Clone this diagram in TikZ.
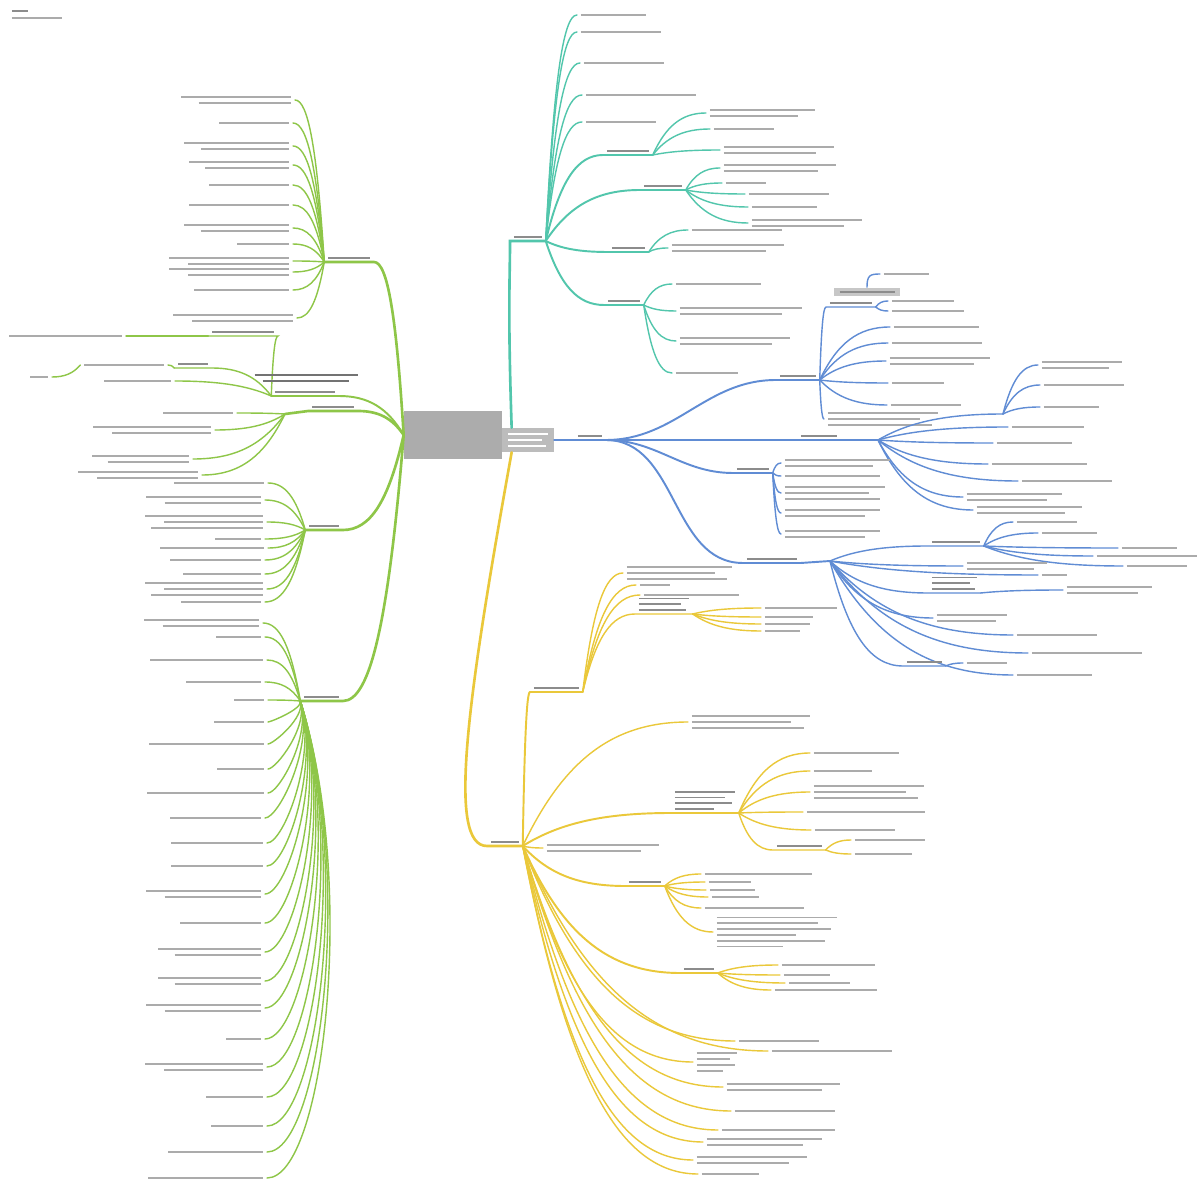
\documentclass[tikz,border=0pt]{standalone}
\usepackage{tikz}
\usetikzlibrary{calc}
\definecolor{mmteal}{RGB}{82,198,172}
\definecolor{mmblue}{RGB}{96,140,212}
\definecolor{mmyellow}{RGB}{234,200,58}
\definecolor{mmgreen}{RGB}{142,198,72}
\definecolor{rootgray}{RGB}{172,172,172}
\definecolor{notegray}{RGB}{188,188,188}
\newdimen\pxu \pxu=0.02cm
% unreadable label lines
\newcommand\bars[2]{\rule{#2\pxu}{1pt}%
\ifnum#1>1 \\\rule{.84\dimexpr#2\pxu\relax}{1pt}\fi
\ifnum#1>2 \\\rule{.95\dimexpr#2\pxu\relax}{1pt}\fi
\ifnum#1>3 \\\rule{.66\dimexpr#2\pxu\relax}{1pt}\fi
\ifnum#1>4 \\\rule{.9\dimexpr#2\pxu\relax}{1pt}\fi
\ifnum#1>5 \\\rule{.55\dimexpr#2\pxu\relax}{1pt}\fi}
\tikzstyle{rootbox} = [rectangle, fill=rootgray, minimum width=1.96cm, minimum height=0.96cm, inner sep=0pt]
\tikzstyle{notebox} = [rectangle, fill=notegray, minimum width=1.04cm, minimum height=0.48cm,
inner sep=1pt, text=white, align=left, font=\fontsize{2}{3.3}\selectfont]
\tikzstyle{leaf} = [inner xsep=2pt, inner ysep=0.5pt, align=left,
font=\fontsize{2}{3.3}\selectfont, text=black!33]
\tikzstyle{lbl} = [leaf, inner ysep=1.5pt, text=black!45]
\tikzstyle{callout} = [rectangle, fill=black!22, text=black!45, inner xsep=3pt, inner ysep=2pt,
align=left, font=\fontsize{2}{3.3}\selectfont]
\tikzstyle{twig} = [to path={let \p1=(\tikztostart), \p2=(\tikztotarget) in
.. controls ({\x1+0.25*(\x2-\x1)},{\y1+0.7*(\y2-\y1)}) and ({\x2-0.45*(\x2-\x1)},\y2) .. (\tikztotarget)}]
\tikzstyle{sweep} = [to path={let \p1=(\tikztostart), \p2=(\tikztotarget) in
.. controls ({\x1+0.12*abs(\y2-\y1)},{\y1+0.38*(\y2-\y1)}) and ({\x2+0.12*abs(\y2-\y1)},\y2) .. (\tikztotarget)}]
\tikzstyle{tealline} = [draw=mmteal, line width=0.8pt, line cap=round]
\tikzstyle{blueline} = [draw=mmblue, line width=0.8pt, line cap=round]
\tikzstyle{yellowline} = [draw=mmyellow, line width=0.8pt, line cap=round]
\tikzstyle{greenline} = [draw=mmgreen, line width=0.8pt, line cap=round]
\tikzstyle{trunk} = [line width=1.5pt]
\tikzstyle{limb} = [line width=1.1pt]

\begin{document}
\begin{tikzpicture}[x=0.02cm, y=-0.02cm]
\fill[white] (0,0) rectangle (1198,1182);
\useasboundingbox (0,0) rectangle (1198,1182);

\node[lbl, anchor=north west] (title) at (8,7) {\bars{1}{16}};
\node[leaf, anchor=north west] (subtitle) at (8,16) {\bars{1}{50}};

\node[rootbox] (root) at (453,435) {};
\node[notebox] (note) at (528,440) {\bars{3}{40}};

% teal branch
\node[lbl, anchor=south west] (tlab) at (510,241) {\bars{1}{28}};
\draw[tealline, trunk] ($(note.north west)+(10,0)$) .. controls +(-4,-120) and +(0,40) .. (tlab.south west) -- (tlab.south east);
\foreach \py/\px/\w/\n [count=\i] in {15/577/65/1, 32/577/80/1, 63/580/80/1, 95/582/110/1, 122/582/70/1}{
  \node[leaf, anchor=west] (tt\i) at (\px,\py) {\bars{\n}{\w}};
  \draw[tealline] (tlab.south east) to[twig] (tt\i.west);
}
\node[lbl, anchor=south west] (tA) at (603,155) {\bars{1}{42}};
\draw[tealline, limb] (tlab.south east) to[twig] (tA.south west) -- (tA.south east);
\foreach \py/\px/\w/\n [count=\i] in {113/706/105/2, 129/710/60/1, 150/720/110/2}{
  \node[leaf, anchor=west] (tA\i) at (\px,\py) {\bars{\n}{\w}};
  \draw[tealline] (tA.south east) to[twig] (tA\i.west);
}
\node[lbl, anchor=south west] (tB) at (640,190) {\bars{1}{38}};
\draw[tealline, limb] (tlab.south east) to[twig] (tB.south west) -- (tB.south east);
\foreach \py/\px/\w/\n [count=\i] in {168/720/112/2, 183/722/40/1, 194/745/80/1, 207/748/65/1, 223/748/110/2}{
  \node[leaf, anchor=west] (tB\i) at (\px,\py) {\bars{\n}{\w}};
  \draw[tealline] (tB.south east) to[twig] (tB\i.west);
}
\node[lbl, anchor=south west] (tC) at (608,252) {\bars{1}{33}};
\draw[tealline, limb] (tlab.south east) to[twig] (tC.south west) -- (tC.south east);
\foreach \py/\px/\w/\n [count=\i] in {230/688/90/1, 248/668/112/2}{
  \node[leaf, anchor=west] (tC\i) at (\px,\py) {\bars{\n}{\w}};
  \draw[tealline] (tC.south east) to[twig] (tC\i.west);
}
\node[lbl, anchor=south west] (tD) at (604,305) {\bars{1}{32}};
\draw[tealline, limb] (tlab.south east) to[twig] (tD.south west) -- (tD.south east);
\foreach \py/\px/\w/\n [count=\i] in {284/672/85/1, 311/676/122/2, 341/676/110/2, 373/672/62/1}{
  \node[leaf, anchor=west] (tD\i) at (\px,\py) {\bars{\n}{\w}};
  \draw[tealline] (tD.south east) to[twig] (tD\i.west);
}

% blue branch
\node[lbl, anchor=south west] (blab) at (574,440) {\bars{1}{24}};
\draw[blueline, trunk] (note.east) -- (blab.south west) -- (blab.south east);
\node[lbl, anchor=south west] (b1) at (776,380) {\bars{1}{36}};
\draw[blueline, limb] (blab.south east) to[out=0,in=180] (b1.south west) -- (b1.south east);
\node[callout] (b1a) at (867,292) {\bars{1}{55}};
\node[leaf, anchor=west] (b1c) at (880,274) {\bars{1}{45}};
\draw[blueline] (b1a.north) .. controls +(0,-12) and +(-10,0) .. (b1c.west);
\node[lbl, anchor=south west] (b1b) at (826,307) {\bars{1}{42}};
\draw[blueline] (b1.south east) to[twig] (b1b.south west) -- (b1b.south east);
\foreach \py/\px/\w/\n [count=\i] in {301/888/62/1, 311/888/72/1}{
  \node[leaf, anchor=west] (b1b\i) at (\px,\py) {\bars{\n}{\w}};
  \draw[blueline] (b1b.south east) to[twig] (b1b\i.west);
}
\foreach \py/\px/\w/\n [count=\i] in {327/890/85/1, 343/888/90/1, 361/886/100/2, 383/888/52/1, 405/887/70/1, 419/824/110/3}{
  \node[leaf, anchor=west] (b1\i) at (\px,\py) {\bars{\n}{\w}};
  \draw[blueline] (b1.south east) to[twig] (b1\i.west);
}
\node[lbl, anchor=south west] (b2) at (797,440) {\bars{1}{36}};
\coordinate (b2h) at (878,440);
\coordinate (b2s) at (1003,414);
\draw[blueline, limb] (blab.south east) -- (b2.south west) -- (b2.south east) -- (b2h);
\draw[blueline] (b2h) to[twig] (b2s);
\foreach \py/\px/\w/\n [count=\i] in {365/1038/80/2, 385/1040/80/1, 407/1040/55/1}{
  \node[leaf, anchor=west] (b2s\i) at (\px,\py) {\bars{\n}{\w}};
  \draw[blueline] (b2s) to[twig] (b2s\i.west);
}
\foreach \py/\px/\w/\n [count=\i] in {427/1008/72/1, 443/993/75/1, 464/988/95/1, 481/1018/90/1, 497/963/95/2, 510/973/105/2}{
  \node[leaf, anchor=west] (b2\i) at (\px,\py) {\bars{\n}{\w}};
  \draw[blueline] (b2h) to[twig] (b2\i.west);
}
\node[lbl, anchor=south west] (b3) at (733,473) {\bars{1}{32}};
\draw[blueline, limb] (blab.south east) to[out=0,in=180] (b3.south west) -- (b3.south east);
\foreach \py/\px/\w/\n [count=\i] in {463/781/105/2, 476/781/95/1, 493/781/100/3, 513/781/95/2, 534/781/95/2}{
  \node[leaf, anchor=west] (b3\i) at (\px,\py) {\bars{\n}{\w}};
  \draw[blueline] (b3.south east) to[twig] (b3\i.west);
}
\node[lbl, anchor=south west] (b4) at (743,563) {\bars{1}{50}};
\coordinate (b4h) at (830,561);
\draw[blueline, limb] (blab.south east) to[out=0,in=180] (b4.south west) -- (b4.south east) -- (b4h);
\node[lbl, anchor=south west] (b4s) at (928,546) {\bars{1}{48}};
\draw[blueline] (b4h) to[twig] (b4s.south west) -- (b4s.south east);
\foreach \py/\px/\w/\n [count=\i] in {522/1013/60/1, 533/1038/55/1, 548/1118/55/1, 556/1093/100/1, 566/1123/60/1}{
  \node[leaf, anchor=west] (b4s\i) at (\px,\py) {\bars{\n}{\w}};
  \draw[blueline] (b4s.south east) to[twig] (b4s\i.west);
}
\foreach \py/\px/\w/\n [count=\i] in {566/963/80/2, 575/1038/25/1, 618/933/70/2, 635/1013/80/1, 653/1028/110/1, 675/1013/75/1}{
  \node[leaf, anchor=west] (b4\i) at (\px,\py) {\bars{\n}{\w}};
  \draw[blueline] (b4h) to[twig] (b4\i.west);
}
\node[lbl, anchor=south west] (b4t) at (928,593) {\bars{3}{45}};
\draw[blueline] (b4h) to[twig] (b4t.south west) -- (b4t.south east);
\node[leaf, anchor=west] (b4t1) at (1063,590) {\bars{2}{85}};
\draw[blueline] (b4t.south east) to[twig] (b4t1.west);
\node[lbl, anchor=south west] (b4u) at (903,666) {\bars{1}{35}};
\draw[blueline] (b4h) to[twig] (b4u.south west) -- (b4u.south east);
\node[leaf, anchor=west] (b4u1) at (963,663) {\bars{1}{40}};
\draw[blueline] (b4u.south east) to[twig] (b4u1.west);

% yellow branch
\node[lbl, anchor=south west] (ylab) at (487,846) {\bars{1}{28}};
\draw[yellowline, trunk] ($(note.south west)+(10,0)$) .. controls +(-45,250) and +(-40,0) .. (ylab.south west) -- (ylab.south east);
\node[lbl, anchor=south west] (y1) at (530,692) {\bars{1}{45}};
\draw[yellowline, limb] (ylab.south east) to[twig] (y1.south west) -- (y1.south east);
\foreach \py/\px/\w/\n [count=\i] in {573/623/105/3, 585/636/30/1, 595/640/95/1}{
  \node[leaf, anchor=west] (y1\i) at (\px,\py) {\bars{\n}{\w}};
  \draw[yellowline] (y1.south east) to[twig] (y1\i.west);
}
\node[lbl, anchor=south west] (y1a) at (635,614) {\bars{3}{50}};
\draw[yellowline] (y1.south east) to[twig] (y1a.south west) -- (y1a.south east);
\foreach \py/\px/\w/\n [count=\i] in {608/761/72/1, 617/761/48/1, 624/761/45/1, 631/761/35/1}{
  \node[leaf, anchor=west] (y1a\i) at (\px,\py) {\bars{\n}{\w}};
  \draw[yellowline] (y1a.south east) to[twig] (y1a\i.west);
}
\node[lbl, anchor=south west] (y3) at (671,813) {\bars{4}{60}};
\draw[yellowline, limb] (ylab.south east) to[twig] (y3.south west) -- (y3.south east);
\foreach \py/\px/\w/\n [count=\i] in {753/810/85/1, 771/810/58/1, 792/810/110/3, 812/803/118/1, 830/811/80/1}{
  \node[leaf, anchor=west] (y3\i) at (\px,\py) {\bars{\n}{\w}};
  \draw[yellowline] (y3.south east) to[twig] (y3\i.west);
}
\node[lbl, anchor=south west] (y3a) at (773,850) {\bars{1}{45}};
\draw[yellowline] (y3.south east) to[twig] (y3a.south west) -- (y3a.south east);
\foreach \py/\px/\w/\n [count=\i] in {840/851/70/1, 854/851/57/1}{
  \node[leaf, anchor=west] (y3a\i) at (\px,\py) {\bars{\n}{\w}};
  \draw[yellowline] (y3a.south east) to[twig] (y3a\i.west);
}
\node[lbl, anchor=south west] (y5) at (625,886) {\bars{1}{32}};
\draw[yellowline, limb] (ylab.south east) to[twig] (y5.south west) -- (y5.south east);
\foreach \py/\px/\w/\n [count=\i] in {874/701/107/1, 882/705/42/1, 890/706/45/1, 897/708/47/1, 908/701/99/1, 932/713/120/6}{
  \node[leaf, anchor=west] (y5\i) at (\px,\py) {\bars{\n}{\w}};
  \draw[yellowline] (y5.south east) to[twig] (y5\i.west);
}
\node[lbl, anchor=south west] (y6) at (680,973) {\bars{1}{30}};
\draw[yellowline, limb] (ylab.south east) to[twig] (y6.south west) -- (y6.south east);
\foreach \py/\px/\w/\n [count=\i] in {965/778/93/1, 975/780/46/1, 983/785/61/1, 990/771/102/1}{
  \node[leaf, anchor=west] (y6\i) at (\px,\py) {\bars{\n}{\w}};
  \draw[yellowline] (y6.south east) to[twig] (y6\i.west);
}
\foreach \py/\px/\w/\n [count=\i] in {722/688/118/3, 848/543/112/2, 1041/735/80/1, 1051/768/120/1, 1062/693/40/4, 1087/723/113/2, 1111/731/100/1, 1130/718/113/1, 1142/703/115/2, 1160/693/110/2, 1174/698/57/1}{
  \node[leaf, anchor=west] (yy\i) at (\px,\py) {\bars{\n}{\w}};
  \draw[yellowline] (ylab.south east) to[twig] (yy\i.west);
}

% green branch
\node[lbl, anchor=south east] (g1) at (374,262) {\bars{1}{42}};
\draw[greenline, trunk] (root.west) to[twig] (g1.south east) -- (g1.south west);
\foreach \py/\px/\w/\n [count=\i] in {100/295/110/2, 123/293/70/1, 146/293/105/2, 165/293/100/2, 185/293/80/1, 205/293/100/1, 228/293/105/2, 244/293/52/1, 261/293/120/2, 272/293/120/2, 290/293/95/1, 318/297/120/2}{
  \node[leaf, anchor=east, align=right] (g1\i) at (\px,\py) {\bars{\n}{\w}};
  \draw[greenline] (g1.south west) to[twig] (g1\i.east);
}
\node[lbl, anchor=south east] (g2) at (358,411) {\bars{1}{42}};
\coordinate (g2h) at (285,414);
\draw[greenline, trunk] (root.west) to[twig] (g2.south east) -- (g2.south west) -- (g2h);
\foreach \py/\px/\w/\n [count=\i] in {413/237/70/1, 430/215/118/2, 459/193/97/2, 475/202/120/2}{
  \node[leaf, anchor=east, align=right] (g2\i) at (\px,\py) {\bars{\n}{\w}};
  \draw[greenline] (g2h) to[twig] (g2\i.east);
}
\node[lbl, anchor=south east] (g2a) at (339,396) {\bars{1}{60}};
\draw[greenline, limb] (root.west) to[twig] (g2a.south east) -- (g2a.south west);
\node[lbl, anchor=south east] (g2b) at (278,336) {\bars{1}{62}};
\draw[greenline] (g2a.south west) to[twig] (g2b.south east) -- (g2b.south west);
\node[leaf, anchor=east, align=right] (g2b1) at (126,336) {\bars{1}{113}};
\draw[greenline] (g2b.south west) -- (g2b1.east);
\node[lbl, anchor=south east] (g2c) at (212,368) {\bars{1}{30}};
\draw[greenline] (g2a.south west) to[twig] (g2c.south east) -- (g2c.south west);
\node[leaf, anchor=east, align=right] (g2c1) at (168,365) {\bars{1}{80}};
\draw[greenline] (g2c.south west) to[twig] (g2c1.east);
\node[leaf, anchor=east, align=right] (g2c2) at (52,377) {\bars{1}{18}};
\draw[greenline] (g2c1.west) to[twig] (g2c2.east);
\node[leaf, anchor=east, align=right] (g2d) at (175,381) {\bars{1}{67}};
\draw[greenline] (g2a.south west) to[twig] (g2d.east);
\node[lbl, align=center, text=black!55] (gnote) at (306,378) {\bars{2}{103}};
\node[lbl, anchor=south east] (g3) at (343,530) {\bars{1}{30}};
\draw[greenline, trunk] (root.west) to[twig] (g3.south east) -- (g3.south west);
\foreach \py/\px/\w/\n [count=\i] in {483/268/90/1, 500/265/115/2, 522/267/118/3, 539/265/46/1, 548/268/104/1, 560/265/91/1, 574/265/78/1, 589/267/118/3, 602/265/80/1}{
  \node[leaf, anchor=east, align=right] (g3\i) at (\px,\py) {\bars{\n}{\w}};
  \draw[greenline] (g3.south west) to[twig] (g3\i.east);
}
\node[lbl, anchor=south east] (g4) at (343,701) {\bars{1}{35}};
\draw[greenline, trunk] (root.west) to[twig] (g4.south east) -- (g4.south west);
\foreach \py/\px/\w/\n [count=\i] in {623/263/115/2, 637/265/45/1, 660/267/113/1, 682/265/75/1, 700/268/30/1}{
  \node[leaf, anchor=east, align=right] (g4\i) at (\px,\py) {\bars{\n}{\w}};
  \draw[greenline] (g4.south west) to[twig] (g4\i.east);
}
\foreach \py/\px/\w/\n [count=\i] in {722/268/50/1, 744/268/115/1, 769/268/47/1, 793/268/117/1, 818/265/91/1, 843/267/92/1, 866/267/92/1, 894/265/115/2, 923/265/81/1, 952/265/103/2, 981/265/103/2, 1008/265/115/2, 1039/265/35/1, 1067/267/118/2, 1097/267/57/1, 1126/267/52/1, 1152/267/95/1, 1178/267/115/1}{
  \node[leaf, anchor=east, align=right] (g4l\i) at (\px,\py) {\bars{\n}{\w}};
  \draw[greenline] (g4.south west) to[sweep] (g4l\i.east);
}

\end{tikzpicture}
\end{document}
